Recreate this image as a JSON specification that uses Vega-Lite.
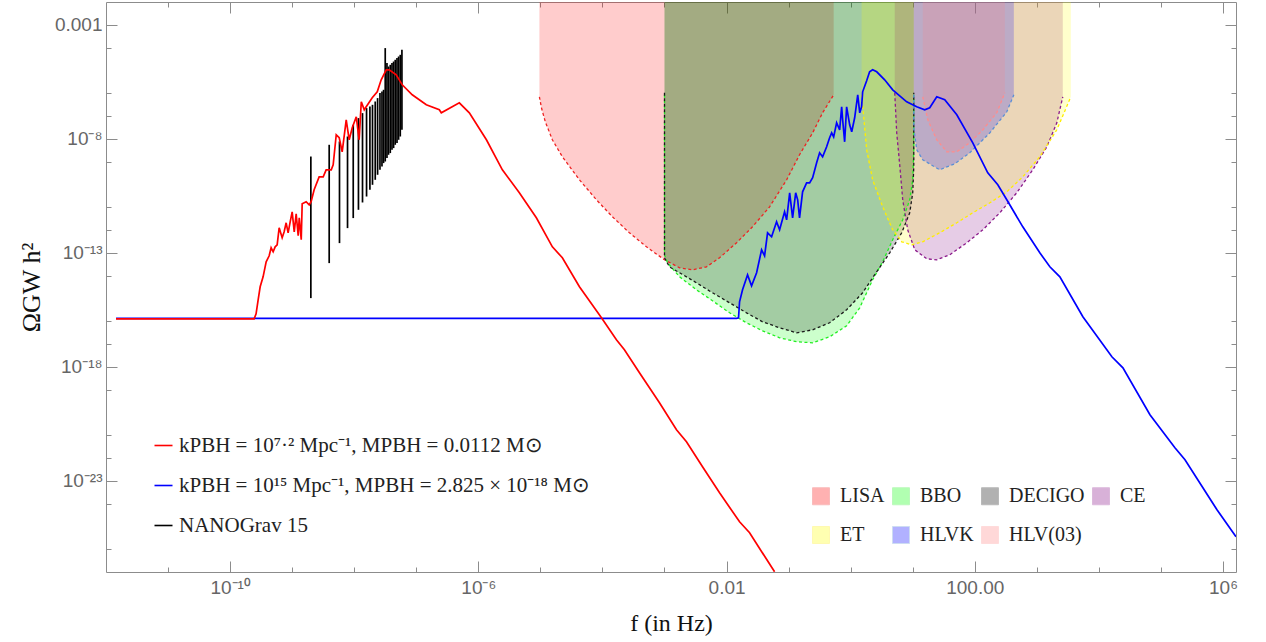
{
  "$schema": "https://vega.github.io/schema/vega-lite/v6.json",
  "width": 1130,
  "height": 570,
  "autosize": {"type": "none"},
  "padding": {"left": 106, "top": 2, "right": 30, "bottom": 70},
  "background": "white",
  "config": {
    "view": {"stroke": "#8c8c8c", "strokeWidth": 1},
    "axis": {
      "domain": false,
      "grid": false,
      "tickColor": "#8c8c8c",
      "tickWidth": 1,
      "labelFont": "Liberation Sans",
      "labelFontSize": 19,
      "labelColor": "#666666",
      "titleFont": "Liberation Serif",
      "titleFontWeight": "normal",
      "titleColor": "#111111",
      "labelOverlap": false,
      "labelFlush": false
    },
    "legend": {"labelFont": "Liberation Serif", "labelColor": "#222222", "padding": 0}
  },
  "datasets": {
    "det": [
      {"det": "LISA", "f": 9.64e-6, "omega": 6.95e-7},
      {"det": "LISA", "f": 1.04e-5, "omega": 2.29e-7},
      {"det": "LISA", "f": 1.20e-5, "omega": 5.57e-8},
      {"det": "LISA", "f": 1.56e-5, "omega": 9.04e-9},
      {"det": "LISA", "f": 2.26e-5, "omega": 1.63e-9},
      {"det": "LISA", "f": 4.26e-5, "omega": 1.59e-10},
      {"det": "LISA", "f": 8.00e-5, "omega": 2.11e-11},
      {"det": "LISA", "f": 1.45e-4, "omega": 3.79e-12},
      {"det": "LISA", "f": 2.72e-4, "omega": 7.54e-13},
      {"det": "LISA", "f": 5.13e-4, "omega": 1.83e-13},
      {"det": "LISA", "f": 1.00e-3, "omega": 4.93e-14},
      {"det": "LISA", "f": 1.75e-3, "omega": 2.20e-14},
      {"det": "LISA", "f": 2.83e-3, "omega": 1.79e-14},
      {"det": "LISA", "f": 4.75e-3, "omega": 2.43e-14},
      {"det": "LISA", "f": 7.71e-3, "omega": 6.04e-14},
      {"det": "LISA", "f": 1.45e-2, "omega": 2.75e-13},
      {"det": "LISA", "f": 2.62e-2, "omega": 1.38e-12},
      {"det": "LISA", "f": 4.94e-2, "omega": 1.04e-11},
      {"det": "LISA", "f": 9.29e-2, "omega": 1.59e-10},
      {"det": "LISA", "f": 0.150, "omega": 1.99e-9},
      {"det": "LISA", "f": 0.244, "omega": 1.83e-8},
      {"det": "LISA", "f": 0.353, "omega": 1.38e-7},
      {"det": "LISA", "f": 0.532, "omega": 8.51e-7},
      {"det": "BBO", "f": 1.00e-3, "omega": 8.51e-7},
      {"det": "BBO", "f": 1.00e-3, "omega": 8.17e-14},
      {"det": "BBO", "f": 1.12e-3, "omega": 3.64e-14},
      {"det": "BBO", "f": 1.75e-3, "omega": 8.85e-15},
      {"det": "BBO", "f": 3.28e-3, "omega": 2.38e-15},
      {"det": "BBO", "f": 5.94e-3, "omega": 7.85e-16},
      {"det": "BBO", "f": 1.12e-2, "omega": 2.33e-16},
      {"det": "BBO", "f": 2.10e-2, "omega": 8.51e-17},
      {"det": "BBO", "f": 3.81e-2, "omega": 3.79e-17},
      {"det": "BBO", "f": 7.16e-2, "omega": 1.87e-17},
      {"det": "BBO", "f": 0.135, "omega": 1.25e-17},
      {"det": "BBO", "f": 0.244, "omega": 1.13e-17},
      {"det": "BBO", "f": 0.458, "omega": 2.07e-17},
      {"det": "BBO", "f": 0.861, "omega": 6.28e-17},
      {"det": "BBO", "f": 1.40, "omega": 3.87e-16},
      {"det": "BBO", "f": 2.26, "omega": 6.55e-15},
      {"det": "BBO", "f": 3.28, "omega": 4.03e-14},
      {"det": "BBO", "f": 4.76, "omega": 3.72e-13},
      {"det": "BBO", "f": 6.90, "omega": 2.80e-12},
      {"det": "BBO", "f": 8.95, "omega": 2.11e-11},
      {"det": "BBO", "f": 10.0, "omega": 1.59e-10},
      {"det": "BBO", "f": 10.4, "omega": 3.30e-9},
      {"det": "BBO", "f": 10.4, "omega": 8.51e-7},
      {"det": "DECIGO", "f": 1.00e-3, "omega": 1.04e-6},
      {"det": "DECIGO", "f": 1.00e-3, "omega": 6.04e-14},
      {"det": "DECIGO", "f": 1.20e-3, "omega": 2.43e-14},
      {"det": "DECIGO", "f": 1.75e-3, "omega": 1.33e-14},
      {"det": "DECIGO", "f": 3.28e-3, "omega": 4.83e-15},
      {"det": "DECIGO", "f": 5.94e-3, "omega": 1.76e-15},
      {"det": "DECIGO", "f": 1.12e-2, "omega": 6.41e-16},
      {"det": "DECIGO", "f": 2.10e-2, "omega": 2.33e-16},
      {"det": "DECIGO", "f": 3.81e-2, "omega": 9.42e-17},
      {"det": "DECIGO", "f": 7.16e-2, "omega": 5.14e-17},
      {"det": "DECIGO", "f": 0.135, "omega": 3.10e-17},
      {"det": "DECIGO", "f": 0.244, "omega": 4.20e-17},
      {"det": "DECIGO", "f": 0.458, "omega": 8.51e-17},
      {"det": "DECIGO", "f": 0.861, "omega": 3.16e-16},
      {"det": "DECIGO", "f": 1.56, "omega": 1.76e-15},
      {"det": "DECIGO", "f": 2.26, "omega": 8.02e-15},
      {"det": "DECIGO", "f": 4.26, "omega": 1.00e-13},
      {"det": "DECIGO", "f": 6.65, "omega": 7.54e-13},
      {"det": "DECIGO", "f": 8.95, "omega": 5.68e-12},
      {"det": "DECIGO", "f": 10.0, "omega": 4.29e-11},
      {"det": "DECIGO", "f": 10.4, "omega": 5.92e-10},
      {"det": "DECIGO", "f": 10.4, "omega": 1.04e-6},
      {"det": "CE", "f": 5.13, "omega": 1.04e-6},
      {"det": "CE", "f": 5.52, "omega": 1.83e-8},
      {"det": "CE", "f": 6.17, "omega": 7.24e-10},
      {"det": "CE", "f": 6.90, "omega": 2.11e-11},
      {"det": "CE", "f": 8.30, "omega": 1.02e-12},
      {"det": "CE", "f": 10.8, "omega": 1.36e-13},
      {"det": "CE", "f": 16.8, "omega": 5.46e-14},
      {"det": "CE", "f": 24.4, "omega": 4.93e-14},
      {"det": "CE", "f": 39.5, "omega": 8.17e-14},
      {"det": "CE", "f": 74.3, "omega": 2.75e-13},
      {"det": "CE", "f": 135, "omega": 1.02e-12},
      {"det": "CE", "f": 253, "omega": 5.68e-12},
      {"det": "CE", "f": 475, "omega": 4.29e-11},
      {"det": "CE", "f": 861, "omega": 4.37e-10},
      {"det": "CE", "f": 1450, "omega": 4.46e-9},
      {"det": "CE", "f": 2100, "omega": 5.04e-8},
      {"det": "CE", "f": 2620, "omega": 6.95e-7},
      {"det": "ET", "f": 1.50, "omega": 8.51e-7},
      {"det": "ET", "f": 1.62, "omega": 9.23e-8},
      {"det": "ET", "f": 1.81, "omega": 3.30e-9},
      {"det": "ET", "f": 2.26, "omega": 1.59e-10},
      {"det": "ET", "f": 3.28, "omega": 1.04e-11},
      {"det": "ET", "f": 4.76, "omega": 1.02e-12},
      {"det": "ET", "f": 6.65, "omega": 3.03e-13},
      {"det": "ET", "f": 9.64, "omega": 2.24e-13},
      {"det": "ET", "f": 14.5, "omega": 3.03e-13},
      {"det": "ET", "f": 27.2, "omega": 7.54e-13},
      {"det": "ET", "f": 51.3, "omega": 2.07e-12},
      {"det": "ET", "f": 92.9, "omega": 5.68e-12},
      {"det": "ET", "f": 175, "omega": 1.56e-11},
      {"det": "ET", "f": 328, "omega": 4.73e-11},
      {"det": "ET", "f": 594, "omega": 2.15e-10},
      {"det": "ET", "f": 1117, "omega": 1.63e-9},
      {"det": "ET", "f": 2100, "omega": 2.48e-8},
      {"det": "ET", "f": 3530, "omega": 6.95e-7},
      {"det": "HLVK", "f": 10.4, "omega": 8.51e-7},
      {"det": "HLVK", "f": 10.4, "omega": 3.03e-8},
      {"det": "HLVK", "f": 11.6, "omega": 3.30e-9},
      {"det": "HLVK", "f": 14.5, "omega": 1.20e-9},
      {"det": "HLVK", "f": 27.2, "omega": 4.37e-10},
      {"det": "HLVK", "f": 47.6, "omega": 8.02e-10},
      {"det": "HLVK", "f": 83.0, "omega": 2.43e-9},
      {"det": "HLVK", "f": 175, "omega": 1.83e-8},
      {"det": "HLVK", "f": 328, "omega": 1.53e-7},
      {"det": "HLVK", "f": 426, "omega": 8.51e-7},
      {"det": "HLV(03)", "f": 14.5, "omega": 6.95e-7},
      {"det": "HLV(03)", "f": 17.5, "omega": 6.81e-8},
      {"det": "HLV(03)", "f": 24.4, "omega": 9.04e-9},
      {"det": "HLV(03)", "f": 35.3, "omega": 2.69e-9},
      {"det": "HLV(03)", "f": 51.3, "omega": 2.69e-9},
      {"det": "HLV(03)", "f": 83.0, "omega": 6.68e-9},
      {"det": "HLV(03)", "f": 135, "omega": 2.48e-8},
      {"det": "HLV(03)", "f": 226, "omega": 1.38e-7},
      {"det": "HLV(03)", "f": 305, "omega": 1.04e-6}
    ],
    "blue": [
      {"s": "B", "f": 1.45e-12, "omega": 1.34e-16},
      {"s": "B", "f": 1e-9, "omega": 1.34e-16},
      {"s": "B", "f": 1e-6, "omega": 1.34e-16},
      {"s": "B", "f": 1e-3, "omega": 1.34e-16},
      {"s": "B", "f": 1.45e-2, "omega": 1.34e-16},
      {"s": "B", "f": 1.56e-2, "omega": 1.41e-16},
      {"s": "B", "f": 1.62e-2, "omega": 7.10e-16},
      {"s": "B", "f": 1.81e-2, "omega": 2.38e-15},
      {"s": "B", "f": 2.18e-2, "omega": 1.08e-14},
      {"s": "B", "f": 2.53e-2, "omega": 3.57e-15},
      {"s": "B", "f": 3.05e-2, "omega": 1.33e-14},
      {"s": "B", "f": 3.67e-2, "omega": 1.36e-13},
      {"s": "B", "f": 4.10e-2, "omega": 7.38e-14},
      {"s": "B", "f": 4.58e-2, "omega": 7.54e-13},
      {"s": "B", "f": 5.32e-2, "omega": 5.04e-13},
      {"s": "B", "f": 6.40e-2, "omega": 2.29e-12},
      {"s": "B", "f": 7.16e-2, "omega": 1.02e-12},
      {"s": "B", "f": 8.61e-2, "omega": 6.28e-12},
      {"s": "B", "f": 9.29e-2, "omega": 2.80e-12},
      {"s": "B", "f": 0.104, "omega": 4.29e-11},
      {"s": "B", "f": 0.116, "omega": 3.43e-12},
      {"s": "B", "f": 0.130, "omega": 4.29e-11},
      {"s": "B", "f": 0.140, "omega": 2.11e-11},
      {"s": "B", "f": 0.150, "omega": 3.43e-12},
      {"s": "B", "f": 0.168, "omega": 4.73e-11},
      {"s": "B", "f": 0.195, "omega": 1.17e-10},
      {"s": "B", "f": 0.218, "omega": 1.17e-10},
      {"s": "B", "f": 0.244, "omega": 1.95e-10},
      {"s": "B", "f": 0.283, "omega": 8.85e-10},
      {"s": "B", "f": 0.316, "omega": 2.43e-9},
      {"s": "B", "f": 0.353, "omega": 1.63e-9},
      {"s": "B", "f": 0.410, "omega": 4.46e-9},
      {"s": "B", "f": 0.458, "omega": 1.11e-8},
      {"s": "B", "f": 0.494, "omega": 1.83e-8},
      {"s": "B", "f": 0.532, "omega": 1.22e-8},
      {"s": "B", "f": 0.594, "omega": 5.04e-8},
      {"s": "B", "f": 0.665, "omega": 2.48e-8},
      {"s": "B", "f": 0.716, "omega": 2.54e-7},
      {"s": "B", "f": 0.743, "omega": 6.81e-8},
      {"s": "B", "f": 0.800, "omega": 7.38e-9},
      {"s": "B", "f": 0.861, "omega": 2.54e-7},
      {"s": "B", "f": 0.964, "omega": 4.11e-8},
      {"s": "B", "f": 1.04, "omega": 2.03e-8},
      {"s": "B", "f": 1.16, "omega": 8.34e-8},
      {"s": "B", "f": 1.30, "omega": 8.51e-7},
      {"s": "B", "f": 1.40, "omega": 1.38e-7},
      {"s": "B", "f": 1.50, "omega": 2.54e-7},
      {"s": "B", "f": 1.56, "omega": 1.15e-6},
      {"s": "B", "f": 1.81, "omega": 3.50e-6},
      {"s": "B", "f": 2.02, "omega": 8.69e-6},
      {"s": "B", "f": 2.26, "omega": 1.06e-5},
      {"s": "B", "f": 2.63, "omega": 8.69e-6},
      {"s": "B", "f": 3.53, "omega": 3.87e-6},
      {"s": "B", "f": 4.76, "omega": 1.41e-6},
      {"s": "B", "f": 8.00, "omega": 4.20e-7},
      {"s": "B", "f": 11.6, "omega": 2.54e-7},
      {"s": "B", "f": 15.6, "omega": 1.87e-7},
      {"s": "B", "f": 18.8, "omega": 2.29e-7},
      {"s": "B", "f": 24.4, "omega": 6.95e-7},
      {"s": "B", "f": 32.8, "omega": 5.14e-7},
      {"s": "B", "f": 51.3, "omega": 1.13e-7},
      {"s": "B", "f": 92.9, "omega": 6.68e-9},
      {"s": "B", "f": 162, "omega": 3.23e-10},
      {"s": "B", "f": 235, "omega": 9.60e-11},
      {"s": "B", "f": 328, "omega": 2.11e-11},
      {"s": "B", "f": 594, "omega": 1.38e-12},
      {"s": "B", "f": 1117, "omega": 1.00e-13},
      {"s": "B", "f": 1622, "omega": 2.43e-14},
      {"s": "B", "f": 2350, "omega": 8.85e-15},
      {"s": "B", "f": 5520, "omega": 1.56e-16},
      {"s": "B", "f": 16200, "omega": 2.75e-18},
      {"s": "B", "f": 24400, "omega": 9.04e-19},
      {"s": "B", "f": 66500, "omega": 7.85e-21},
      {"s": "B", "f": 168000, "omega": 2.80e-22},
      {"s": "B", "f": 244000, "omega": 8.34e-23},
      {"s": "B", "f": 800000, "omega": 5.35e-25},
      {"s": "B", "f": 1620000, "omega": 3.50e-26}
    ],
    "red": [
      {"s": "A", "f": 1.45e-12, "omega": 1.27e-16},
      {"s": "A", "f": 2.44e-10, "omega": 1.27e-16},
      {"s": "A", "f": 2.62e-10, "omega": 2.11e-16},
      {"s": "A", "f": 2.83e-10, "omega": 8.69e-16},
      {"s": "A", "f": 3.05e-10, "omega": 3.23e-15},
      {"s": "A", "f": 3.40e-10, "omega": 8.85e-15},
      {"s": "A", "f": 3.81e-10, "omega": 4.03e-14},
      {"s": "A", "f": 4.26e-10, "omega": 7.38e-14},
      {"s": "A", "f": 4.58e-10, "omega": 1.66e-13},
      {"s": "A", "f": 4.94e-10, "omega": 1.11e-13},
      {"s": "A", "f": 5.32e-10, "omega": 1.83e-13},
      {"s": "A", "f": 5.73e-10, "omega": 2.24e-13},
      {"s": "A", "f": 6.17e-10, "omega": 1.25e-12},
      {"s": "A", "f": 6.90e-10, "omega": 4.55e-13},
      {"s": "A", "f": 7.43e-10, "omega": 8.34e-13},
      {"s": "A", "f": 8.00e-10, "omega": 2.07e-12},
      {"s": "A", "f": 8.61e-10, "omega": 7.54e-13},
      {"s": "A", "f": 9.29e-10, "omega": 2.29e-12},
      {"s": "A", "f": 1.00e-9, "omega": 6.28e-12},
      {"s": "A", "f": 1.08e-9, "omega": 8.34e-13},
      {"s": "A", "f": 1.16e-9, "omega": 5.14e-12},
      {"s": "A", "f": 1.25e-9, "omega": 5.57e-13},
      {"s": "A", "f": 1.30e-9, "omega": 3.43e-12},
      {"s": "A", "f": 1.40e-9, "omega": 3.72e-13},
      {"s": "A", "f": 1.45e-9, "omega": 1.41e-11},
      {"s": "A", "f": 1.68e-9, "omega": 1.73e-11},
      {"s": "A", "f": 1.88e-9, "omega": 1.27e-11},
      {"s": "A", "f": 2.02e-9, "omega": 1.73e-11},
      {"s": "A", "f": 2.26e-9, "omega": 5.80e-11},
      {"s": "A", "f": 2.72e-9, "omega": 2.15e-10},
      {"s": "A", "f": 3.16e-9, "omega": 2.15e-10},
      {"s": "A", "f": 3.53e-9, "omega": 4.37e-10},
      {"s": "A", "f": 4.26e-9, "omega": 4.37e-10},
      {"s": "A", "f": 4.58e-9, "omega": 7.24e-10},
      {"s": "A", "f": 5.13e-9, "omega": 1.50e-8},
      {"s": "A", "f": 5.73e-9, "omega": 1.11e-8},
      {"s": "A", "f": 6.40e-9, "omega": 2.69e-9},
      {"s": "A", "f": 7.43e-9, "omega": 6.81e-8},
      {"s": "A", "f": 8.30e-9, "omega": 9.04e-9},
      {"s": "A", "f": 9.29e-9, "omega": 3.03e-8},
      {"s": "A", "f": 1.08e-8, "omega": 9.23e-8},
      {"s": "A", "f": 1.20e-8, "omega": 9.04e-9},
      {"s": "A", "f": 1.30e-8, "omega": 4.20e-7},
      {"s": "A", "f": 1.45e-8, "omega": 1.87e-7},
      {"s": "A", "f": 1.56e-8, "omega": 2.54e-7},
      {"s": "A", "f": 1.95e-8, "omega": 6.28e-7},
      {"s": "A", "f": 2.35e-8, "omega": 1.15e-6},
      {"s": "A", "f": 2.72e-8, "omega": 3.87e-6},
      {"s": "A", "f": 3.28e-8, "omega": 1.06e-5},
      {"s": "A", "f": 3.67e-8, "omega": 1.06e-5},
      {"s": "A", "f": 4.75e-8, "omega": 6.41e-6},
      {"s": "A", "f": 5.94e-8, "omega": 2.33e-6},
      {"s": "A", "f": 8.61e-8, "omega": 8.51e-7},
      {"s": "A", "f": 1.45e-7, "omega": 3.10e-7},
      {"s": "A", "f": 2.35e-7, "omega": 1.87e-7},
      {"s": "A", "f": 2.53e-7, "omega": 1.38e-7},
      {"s": "A", "f": 4.94e-7, "omega": 3.79e-7},
      {"s": "A", "f": 7.16e-7, "omega": 1.38e-7},
      {"s": "A", "f": 1.35e-6, "omega": 9.04e-9},
      {"s": "A", "f": 2.44e-6, "omega": 4.37e-10},
      {"s": "A", "f": 4.58e-6, "omega": 4.29e-11},
      {"s": "A", "f": 8.61e-6, "omega": 3.43e-12},
      {"s": "A", "f": 1.56e-5, "omega": 1.83e-13},
      {"s": "A", "f": 2.26e-5, "omega": 6.04e-14},
      {"s": "A", "f": 4.26e-5, "omega": 3.23e-15},
      {"s": "A", "f": 9.64e-5, "omega": 1.41e-16},
      {"s": "A", "f": 1.68e-4, "omega": 1.53e-17},
      {"s": "A", "f": 2.26e-4, "omega": 5.57e-18},
      {"s": "A", "f": 3.95e-4, "omega": 5.46e-19},
      {"s": "A", "f": 8.30e-4, "omega": 2.64e-20},
      {"s": "A", "f": 1.56e-3, "omega": 1.73e-21},
      {"s": "A", "f": 2.26e-3, "omega": 5.14e-22},
      {"s": "A", "f": 4.10e-3, "omega": 4.11e-23},
      {"s": "A", "f": 7.71e-3, "omega": 2.98e-24},
      {"s": "A", "f": 1.62e-2, "omega": 1.59e-25},
      {"s": "A", "f": 2.35e-2, "omega": 5.24e-26},
      {"s": "A", "f": 5.94e-2, "omega": 1.02e-27}
    ],
    "nano": [
      {"s": "N", "f": 2.00e-9, "lo": 1.03e-15, "hi": 1.67e-9},
      {"s": "N", "f": 3.95e-9, "lo": 3.53e-14, "hi": 5.46e-9},
      {"s": "N", "f": 5.79e-9, "lo": 2.66e-13, "hi": 7.62e-9},
      {"s": "N", "f": 7.80e-9, "lo": 1.21e-12, "hi": 1.26e-8},
      {"s": "N", "f": 9.64e-9, "lo": 3.33e-12, "hi": 4.11e-8},
      {"s": "N", "f": 1.17e-8, "lo": 7.69e-12, "hi": 8.09e-8},
      {"s": "N", "f": 1.36e-8, "lo": 1.61e-11, "hi": 1.34e-7},
      {"s": "N", "f": 1.58e-8, "lo": 2.94e-11, "hi": 2.22e-7},
      {"s": "N", "f": 1.79e-8, "lo": 5.80e-11, "hi": 2.61e-7},
      {"s": "N", "f": 1.97e-8, "lo": 9.60e-11, "hi": 3.10e-7},
      {"s": "N", "f": 2.18e-8, "lo": 1.59e-10, "hi": 4.33e-7},
      {"s": "N", "f": 2.38e-8, "lo": 2.64e-10, "hi": 6.10e-7},
      {"s": "N", "f": 2.60e-8, "lo": 4.37e-10, "hi": 1.01e-6},
      {"s": "N", "f": 2.80e-8, "lo": 6.10e-10, "hi": 1.19e-6},
      {"s": "N", "f": 2.97e-8, "lo": 8.59e-10, "hi": 1.41e-6},
      {"s": "N", "f": 3.16e-8, "lo": 1.01e-9, "hi": 9.51e-5},
      {"s": "N", "f": 3.37e-8, "lo": 1.43e-9, "hi": 2.09e-5},
      {"s": "N", "f": 3.57e-8, "lo": 1.99e-9, "hi": 1.48e-5},
      {"s": "N", "f": 3.81e-8, "lo": 2.36e-9, "hi": 1.76e-5},
      {"s": "N", "f": 4.06e-8, "lo": 3.30e-9, "hi": 2.09e-5},
      {"s": "N", "f": 4.31e-8, "lo": 3.91e-9, "hi": 2.45e-5},
      {"s": "N", "f": 4.58e-8, "lo": 5.46e-9, "hi": 2.92e-5},
      {"s": "N", "f": 4.89e-8, "lo": 6.47e-9, "hi": 3.46e-5},
      {"s": "N", "f": 5.19e-8, "lo": 9.04e-9, "hi": 4.07e-5},
      {"s": "N", "f": 5.52e-8, "lo": 1.26e-8, "hi": 4.83e-5},
      {"s": "N", "f": 5.87e-8, "lo": 2.48e-8, "hi": 8.02e-5}
    ]
  },
  "layer": [
    {
      "data": {"name": "det"},
      "mark": {"type": "area", "fillOpacity": 0.2, "clip": true},
      "encoding": {
        "x": {
          "field": "f", "type": "quantitative",
          "scale": {"type": "log", "domain": [1e-12, 1.62e6], "nice": false},
          "axis": {
            "orient": "bottom",
            "values": [1e-11, 1e-10, 1e-9, 1e-8, 1e-7, 1e-6, 1e-5, 1e-4, 1e-3, 1e-2, 1e-1, 1, 10, 100, 1000, 10000, 100000, 1000000],
            "labelExpr": "round(log(datum.value)/LN10) == -10 ? '10⁻¹⁰' : round(log(datum.value)/LN10) == -6 ? '10⁻⁶' : round(log(datum.value)/LN10) == -2 ? '0.01' : round(log(datum.value)/LN10) == 2 ? '100.00' : round(log(datum.value)/LN10) == 6 ? '10⁶' : ''",
            "tickSize": {"condition": {"test": "abs(round(log(datum.value)/LN10) % 4) == 2", "value": -11}, "value": -5},
            "labelPadding": 17,
            "title": "f (in Hz)",
            "titleFontSize": 24,
            "titlePadding": 8
          }
        },
        "y": {
          "field": "omega", "type": "quantitative",
          "scale": {"type": "log", "domain": [1e-27, 1e-2], "nice": false},
          "axis": {
            "orient": "left",
            "values": [1e-26, 1e-24, 1e-23, 1e-22, 1e-21, 1e-19, 1e-18, 1e-17, 1e-16, 1e-14, 1e-13, 1e-12, 1e-11, 1e-9, 1e-8, 1e-7, 1e-6, 1e-4, 1e-3],
            "labelExpr": "round(log(datum.value)/LN10) == -3 ? '0.001' : round(log(datum.value)/LN10) == -8 ? '10⁻⁸' : round(log(datum.value)/LN10) == -13 ? '10⁻¹³' : round(log(datum.value)/LN10) == -18 ? '10⁻¹⁸' : round(log(datum.value)/LN10) == -23 ? '10⁻²³' : ''",
            "tickSize": {"condition": {"test": "round(log(datum.value)/LN10) % 5 == -3", "value": -11}, "value": -5},
            "labelPadding": 15,
            "title": "ΩGW h²",
            "titleFontSize": 26,
            "titlePadding": 10
          }
        },
        "y2": {"datum": 0.01},
        "fill": {
          "field": "det", "type": "nominal",
          "scale": {"domain": ["LISA", "BBO", "DECIGO", "CE", "ET", "HLVK", "HLV(03)"], "range": ["#ff0000", "#00ff00", "#000000", "#800080", "#ffff00", "#0000ff", "#ff8080"]},
          "legend": {
            "orient": "none", "legendX": 705, "legendY": 484, "direction": "horizontal", "columns": 4,
            "title": null, "symbolType": "square", "symbolSize": 289, "symbolOpacity": 0.3,
            "symbolStrokeColor": "#555555", "symbolStrokeWidth": 1,
            "labelFontSize": 20, "labelOffset": 9, "columnPadding": 5, "rowPadding": 17
          }
        },
        "order": {"value": null}
      }
    },
    {
      "data": {"name": "det"},
      "mark": {"type": "line", "strokeDash": [3, 2.5], "strokeWidth": 1.3, "clip": true},
      "encoding": {
        "x": {"field": "f", "type": "quantitative", "scale": {"type": "log", "domain": [1e-12, 1.62e6], "nice": false}, "axis": null},
        "y": {"field": "omega", "type": "quantitative", "scale": {"type": "log", "domain": [1e-27, 1e-2], "nice": false}, "axis": null},
        "color": {
          "field": "det", "type": "nominal",
          "scale": {"domain": ["LISA", "BBO", "DECIGO", "CE", "ET", "HLVK", "HLV(03)"], "range": ["#ee2222", "#22ee22", "#1a1a1a", "#8b1a8b", "#ffee00", "#5b8fd6", "#ff8c8c"]},
          "legend": null
        },
        "order": {"value": null}
      }
    },
    {
      "data": {"name": "blue"},
      "mark": {"type": "line", "strokeWidth": 1.7, "clip": true},
      "encoding": {
        "x": {
          "field": "f", "type": "quantitative",
          "scale": {"type": "log", "domain": [1e-12, 1.62e6], "nice": false},
          "axis": {
            "orient": "top", "labels": false, "title": null,
            "values": [1e-11, 1e-10, 1e-9, 1e-8, 1e-7, 1e-6, 1e-5, 1e-4, 1e-3, 1e-2, 1e-1, 1, 10, 100, 1000, 10000, 100000, 1000000],
            "tickSize": {"condition": {"test": "abs(round(log(datum.value)/LN10) % 4) == 2", "value": -11}, "value": -5}
          }
        },
        "y": {
          "field": "omega", "type": "quantitative",
          "scale": {"type": "log", "domain": [1e-27, 1e-2], "nice": false},
          "axis": {
            "orient": "right", "labels": false, "title": null,
            "values": [1e-26, 1e-24, 1e-23, 1e-22, 1e-21, 1e-19, 1e-18, 1e-17, 1e-16, 1e-14, 1e-13, 1e-12, 1e-11, 1e-9, 1e-8, 1e-7, 1e-6, 1e-4, 1e-3],
            "tickSize": {"condition": {"test": "round(log(datum.value)/LN10) % 5 == -3", "value": -11}, "value": -5}
          }
        },
        "stroke": {
          "field": "s", "type": "nominal",
          "scale": {"domain": ["A", "B", "N"], "range": ["#ff0000", "#0000ff", "#000000"]},
          "legend": {
            "orient": "none", "legendX": 47, "legendY": 433, "direction": "vertical",
            "title": null, "symbolType": "stroke", "symbolSize": 324, "symbolStrokeWidth": 1.6,
            "labelFontSize": 21, "labelLimit": 700, "labelOffset": 5, "rowPadding": 18,
            "labelExpr": "datum.value == 'A' ? 'kPBH = 10⁷·² Mpc⁻¹,  MPBH = 0.0112 M⊙' : datum.value == 'B' ? 'kPBH = 10¹⁵ Mpc⁻¹,  MPBH = 2.825 × 10⁻¹⁸ M⊙' : 'NANOGrav 15'"
          }
        },
        "order": {"value": null}
      }
    },
    {
      "data": {"name": "nano"},
      "mark": {"type": "rule", "strokeWidth": 1.7, "clip": true},
      "encoding": {
        "x": {"field": "f", "type": "quantitative", "scale": {"type": "log", "domain": [1e-12, 1.62e6], "nice": false}, "axis": null},
        "y": {"field": "lo", "type": "quantitative", "scale": {"type": "log", "domain": [1e-27, 1e-2], "nice": false}, "axis": null},
        "y2": {"field": "hi"},
        "stroke": {"field": "s", "type": "nominal", "scale": {"domain": ["A", "B", "N"], "range": ["#ff0000", "#0000ff", "#000000"]}}
      }
    },
    {
      "data": {"name": "red"},
      "mark": {"type": "line", "strokeWidth": 1.7, "clip": true},
      "encoding": {
        "x": {"field": "f", "type": "quantitative", "scale": {"type": "log", "domain": [1e-12, 1.62e6], "nice": false}, "axis": null},
        "y": {"field": "omega", "type": "quantitative", "scale": {"type": "log", "domain": [1e-27, 1e-2], "nice": false}, "axis": null},
        "stroke": {"field": "s", "type": "nominal", "scale": {"domain": ["A", "B", "N"], "range": ["#ff0000", "#0000ff", "#000000"]}},
        "order": {"value": null}
      }
    }
  ],
  "resolve": {"axis": {"x": "independent", "y": "independent"}}
}
